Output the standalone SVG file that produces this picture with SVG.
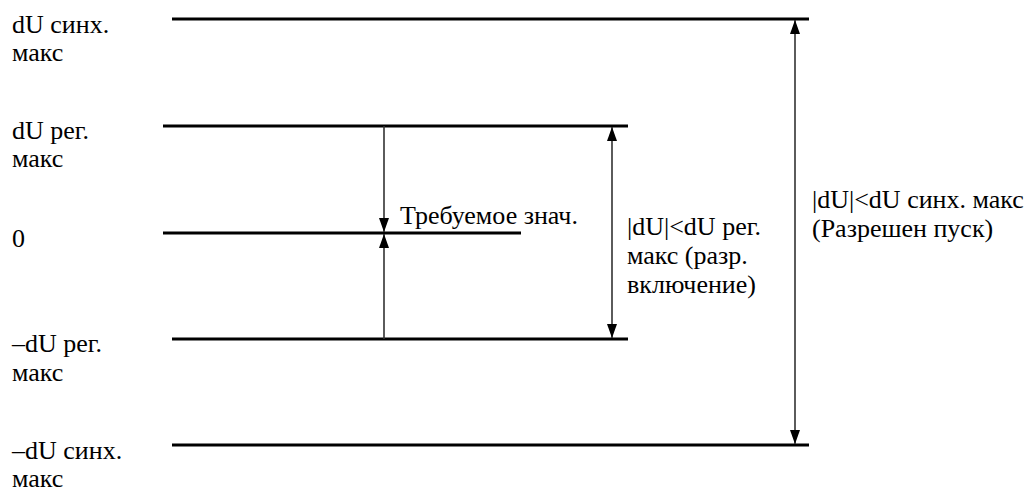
<svg xmlns="http://www.w3.org/2000/svg" width="1032" height="493" viewBox="0 0 1032 493">
<style>
text{font-family:'Liberation Serif','Times New Roman',serif;font-size:26px;fill:#000}
.lvl{stroke:#000;stroke-width:3}
.arr{stroke:#333;stroke-width:1.6;fill:none}
</style>
<defs>
<marker id="ah" viewBox="0 0 14 10" refX="14" refY="5" markerWidth="14" markerHeight="10" markerUnits="userSpaceOnUse" orient="auto-start-reverse">
<path d="M0,0 L14,5 L0,10 Z" fill="#000"/>
</marker>
</defs>
<rect width="1032" height="493" fill="#fff"/>
<g id="level-sync-max">
<line class="lvl" x1="172" y1="19" x2="809" y2="19"/>
<text x="12" y="33">dU синх.</text>
<text x="12" y="61">макс</text>
</g>
<g id="level-reg-max">
<line class="lvl" x1="163" y1="126" x2="628" y2="126"/>
<text x="12" y="139">dU рег.</text>
<text x="12" y="167">макс</text>
</g>
<g id="level-zero">
<line class="lvl" x1="163" y1="233" x2="521" y2="233"/>
<text x="12" y="247">0</text>
</g>
<g id="level-neg-reg-max">
<line class="lvl" x1="172" y1="339" x2="628" y2="339"/>
<text x="12" y="352">–dU рег.</text>
<text x="12" y="381">макс</text>
</g>
<g id="level-neg-sync-max">
<line class="lvl" x1="172" y1="445" x2="809" y2="445"/>
<text x="12" y="459">–dU синх.</text>
<text x="12" y="487">макс</text>
</g>
<g id="label-required">
<text x="400" y="224">Требуемое знач.</text>
</g>
<g id="label-reg">
<text x="627" y="235">|dU|&lt;dU рег.</text>
<text x="627" y="264">макс (разр.</text>
<text x="627" y="293">включение)</text>
</g>
<g id="label-sync">
<text x="812" y="208">|dU|&lt;dU синх. макс</text>
<text x="812" y="237">(Разрешен пуск)</text>
</g>
<g id="connectors">
<line class="arr" x1="384" y1="126" x2="384" y2="232" marker-end="url(#ah)"/>
<line class="arr" x1="384" y1="339" x2="384" y2="234" marker-end="url(#ah)"/>
<line class="arr" x1="612" y1="127" x2="612" y2="338" marker-start="url(#ah)" marker-end="url(#ah)"/>
<line class="arr" x1="795" y1="20" x2="795" y2="444" marker-start="url(#ah)" marker-end="url(#ah)"/>
</g>
</svg>
